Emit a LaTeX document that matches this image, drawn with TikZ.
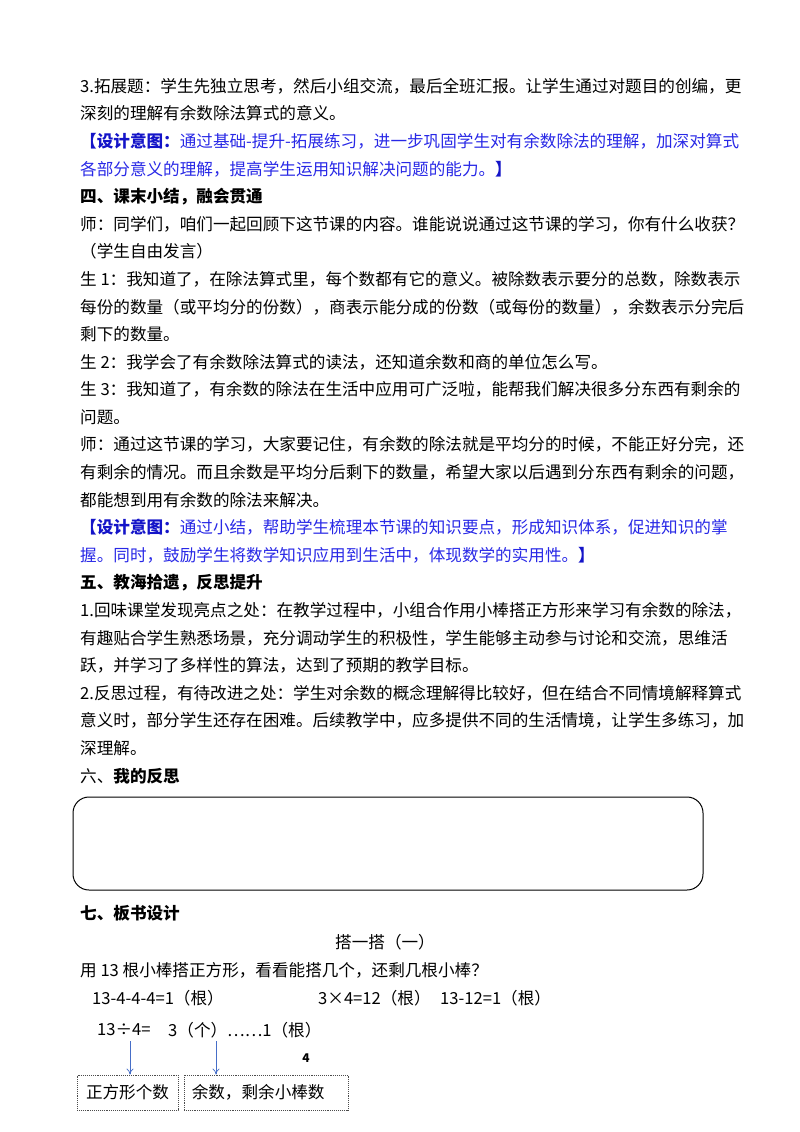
\documentclass[tikz,border=0pt]{standalone}
\usepackage{fontspec}
\setmainfont{Noto Sans CJK SC}
\usetikzlibrary{arrows.meta}
\definecolor{bluetxt}{RGB}{40,40,230}
\definecolor{bluebold}{RGB}{20,20,200}
\definecolor{arrowblue}{RGB}{70,110,200}
\begin{document}
\begin{tikzpicture}[x=1pt,y=-1pt,
  ln/.style={anchor=west,inner sep=0pt,font=\fontsize{16.6}{18}\selectfont},
  hd/.style={ln,font=\fontsize{16.6}{18}\selectfont\bfseries},
  bl/.style={ln,text=bluetxt},
  dbox/.style={draw=black!70,densely dotted,line width=0.9pt,inner sep=0pt},
  arr/.style={draw=arrowblue,line width=0.8pt,-{To[length=6pt,width=7pt]}}]
\useasboundingbox (0,0) rectangle (800,1132);
\def\L{27.6}
\node[ln] (t0) at (80,86) {3.拓展题：学生先独立思考，然后小组交流，最后全班汇报。让学生通过对题目的创编，更};
\node[ln] (t1) at (80,{86+1*\L}) {深刻的理解有余数除法算式的意义。};
\node[bl] (t2) at (80,{86+2*\L}) {\textcolor{bluebold}{\bfseries【设计意图：}通过基础-提升-拓展练习，进一步巩固学生对有余数除法的理解，加深对算式};
\node[bl] (t3) at (80,{86+3*\L}) {各部分意义的理解，提高学生运用知识解决问题的能力。\textcolor{bluebold}{\bfseries】}};
\node[hd] (t4) at (80,{86+4*\L}) {四、课末小结，融会贯通};
\node[ln] (t5) at (80,{86+5*\L}) {师：同学们，咱们一起回顾下这节课的内容。谁能说说通过这节课的学习，你有什么收获？};
\node[ln] (t6) at (80,{86+6*\L}) {（学生自由发言）};
\node[ln] (t7) at (80,{86+7*\L}) {生 1：我知道了，在除法算式里，每个数都有它的意义。被除数表示要分的总数，除数表示};
\node[ln] (t8) at (80,{86+8*\L}) {每份的数量（或平均分的份数），商表示能分成的份数（或每份的数量），余数表示分完后};
\node[ln] (t9) at (80,{86+9*\L}) {剩下的数量。};
\node[ln] (t10) at (80,{86+10*\L}) {生 2：我学会了有余数除法算式的读法，还知道余数和商的单位怎么写。};
\node[ln] (t11) at (80,{86+11*\L}) {生 3：我知道了，有余数的除法在生活中应用可广泛啦，能帮我们解决很多分东西有剩余的};
\node[ln] (t12) at (80,{86+12*\L}) {问题。};
\node[ln] (t13) at (80,{86+13*\L}) {师：通过这节课的学习，大家要记住，有余数的除法就是平均分的时候，不能正好分完，还};
\node[ln] (t14) at (80,{86+14*\L}) {有剩余的情况。而且余数是平均分后剩下的数量，希望大家以后遇到分东西有剩余的问题，};
\node[ln] (t15) at (80,{86+15*\L}) {都能想到用有余数的除法来解决。};
\node[bl] (t16) at (80,{86+16*\L}) {\textcolor{bluebold}{\bfseries【设计意图：}通过小结，帮助学生梳理本节课的知识要点，形成知识体系，促进知识的掌};
\node[bl] (t17) at (80,{86+17*\L}) {握。同时，鼓励学生将数学知识应用到生活中，体现数学的实用性。\textcolor{bluebold}{\bfseries】}};
\node[hd] (t18) at (80,{86+18*\L}) {五、教海拾遗，反思提升};
\node[ln] (t19) at (80,{86+19*\L}) {1.回味课堂发现亮点之处：在教学过程中，小组合作用小棒搭正方形来学习有余数的除法，};
\node[ln] (t20) at (80,{86+20*\L}) {有趣贴合学生熟悉场景，充分调动学生的积极性，学生能够主动参与讨论和交流，思维活};
\node[ln] (t21) at (80,{86+21*\L}) {跃，并学习了多样性的算法，达到了预期的教学目标。};
\node[ln] (t22) at (80,{86+22*\L}) {2.反思过程，有待改进之处：学生对余数的概念理解得比较好，但在结合不同情境解释算式};
\node[ln] (t23) at (80,{86+23*\L}) {意义时，部分学生还存在困难。后续教学中，应多提供不同的生活情境，让学生多练习，加};
\node[ln] (t24) at (80,{86+24*\L}) {深理解。};
\node[ln] (t25) at (80,{86+25*\L}) {六、\textbf{我的反思}};
\draw[line width=1pt,rounded corners=16pt] (73,797) rectangle (703,890);
\node[hd] (t26) at (80,913) {七、板书设计};
\node[ln,anchor=center] (t27) at (385,942) {搭一搭（一）};
\node[ln] (t28) at (80,970) {用 13 根小棒搭正方形，看看能搭几个，还剩几根小棒？};
\node[ln] (e1) at (92,998) {13-4-4-4=1（根）};
\node[ln] (e2) at (318,998) {3×4=12（根）};
\node[ln] (e3) at (440,998) {13-12=1（根）};
\node[ln] (e4) at (97,1030) {13÷4=};
\node[ln] (e5) at (168,1030) {3（个）……1（根）};
\node[anchor=center,inner sep=0pt,font=\fontsize{12}{14}\selectfont\bfseries] (pg) at (306,1058) {4};
\node[dbox,minimum width=101pt,minimum height=35pt] (b1) at (127.5,1092.5) {};
\node[ln,anchor=center] at (b1.center) {正方形个数};
\node[dbox,minimum width=164pt,minimum height=35pt] (b2) at (266,1092.5) {};
\node[ln,anchor=west] at ([xshift=8pt]b2.west) {余数，剩余小棒数};
\coordinate (a1s) at (130,1041);
\coordinate (a2s) at (216,1041);
\draw[arr] (a1s) -- (a1s |- b1.north);
\draw[arr] (a2s) -- (a2s |- b2.north);
\end{tikzpicture}
\end{document}
